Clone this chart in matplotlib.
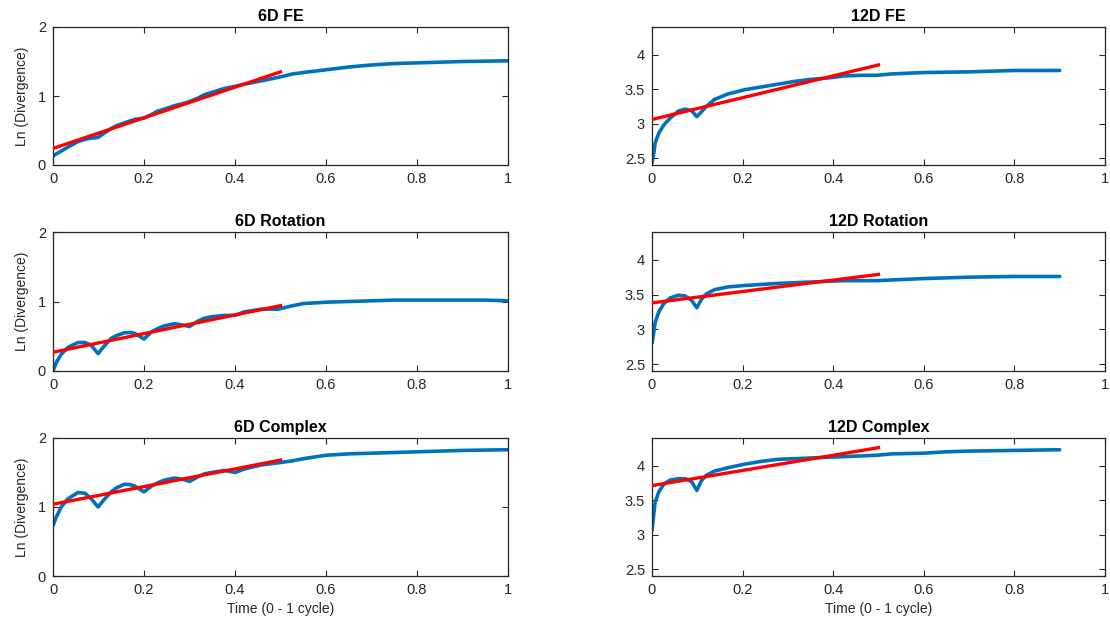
import matplotlib
matplotlib.use("Agg")
import matplotlib.pyplot as plt
from matplotlib.ticker import FuncFormatter

plt.rcParams['font.family'] = ['Liberation Sans', 'DejaVu Sans']

# ---- data ----
t6 = [0, 0.007, 0.018, 0.033, 0.055, 0.07, 0.084, 0.099, 0.11, 0.128,
      0.14, 0.157, 0.17, 0.18, 0.2, 0.216, 0.23, 0.245, 0.267, 0.286,
      0.3, 0.319, 0.333, 0.348, 0.377, 0.4, 0.42, 0.458, 0.495, 0.527,
      0.55, 0.6, 0.65, 0.7, 0.75, 0.8, 0.85, 0.9, 0.95, 1.0]
t12 = [0, 0.004, 0.007, 0.015, 0.026, 0.04, 0.058, 0.073, 0.087, 0.099,
       0.109, 0.12, 0.138, 0.168, 0.204, 0.24, 0.277, 0.313, 0.35, 0.386,
       0.423, 0.46, 0.496, 0.53, 0.6, 0.65, 0.7, 0.75, 0.8, 0.85, 0.9]

fe6 = [0.13, 0.16, 0.20, 0.26, 0.34, 0.37, 0.39, 0.40, 0.45, 0.53,
       0.57, 0.61, 0.64, 0.66, 0.68, 0.73, 0.78, 0.81, 0.86, 0.89,
       0.92, 0.97, 1.02, 1.05, 1.11, 1.14, 1.17, 1.22, 1.27, 1.32,
       1.34, 1.38, 1.42, 1.45, 1.47, 1.48, 1.49, 1.50, 1.505, 1.51]
rot6 = [0.0, 0.12, 0.24, 0.34, 0.41, 0.41, 0.37, 0.25, 0.34, 0.47,
        0.51, 0.55, 0.555, 0.54, 0.46, 0.56, 0.61, 0.65, 0.68, 0.66,
        0.64, 0.72, 0.76, 0.78, 0.80, 0.80, 0.85, 0.89, 0.89, 0.94,
        0.97, 0.99, 1.00, 1.01, 1.02, 1.02, 1.02, 1.02, 1.02, 1.01]
cpx6 = [0.73, 0.85, 1.00, 1.12, 1.21, 1.20, 1.12, 1.00, 1.09, 1.22,
        1.28, 1.33, 1.325, 1.30, 1.22, 1.30, 1.35, 1.39, 1.42, 1.40,
        1.37, 1.44, 1.48, 1.50, 1.53, 1.50, 1.55, 1.61, 1.64, 1.67,
        1.70, 1.75, 1.77, 1.78, 1.79, 1.80, 1.81, 1.82, 1.825, 1.83]

fe12 = [2.43, 2.57, 2.72, 2.86, 2.98, 3.08, 3.18, 3.21, 3.19, 3.10,
        3.17, 3.25, 3.35, 3.43, 3.49, 3.53, 3.57, 3.61, 3.64, 3.66,
        3.69, 3.70, 3.70, 3.72, 3.74, 3.745, 3.75, 3.76, 3.77, 3.77, 3.77]
rot12 = [2.80, 2.96, 3.10, 3.25, 3.37, 3.45, 3.49, 3.48, 3.42, 3.31,
         3.43, 3.51, 3.57, 3.61, 3.63, 3.645, 3.66, 3.67, 3.68, 3.69,
         3.70, 3.70, 3.70, 3.71, 3.73, 3.74, 3.75, 3.755, 3.76, 3.76, 3.76]
cpx12 = [3.06, 3.30, 3.47, 3.62, 3.73, 3.79, 3.81, 3.81, 3.77, 3.64,
         3.78, 3.86, 3.92, 3.97, 4.02, 4.06, 4.09, 4.10, 4.11, 4.12,
         4.13, 4.14, 4.15, 4.17, 4.18, 4.20, 4.21, 4.215, 4.22, 4.225, 4.23]

fit_x = [0, 0.5]
fit_fe6 = [0.24, 1.35]
fit_fe12 = [3.06, 3.85]
fit_rot6 = [0.27, 0.94]
fit_rot12 = [3.38, 3.79]
fit_cpx6 = [1.04, 1.68]
fit_cpx12 = [3.71, 4.26]

titles = ["6D FE", "12D FE", "6D Rotation", "12D Rotation", "6D Complex", "12D Complex"]
xticks = [0, 0.2, 0.4, 0.6, 0.8, 1]
yticks6 = [0, 1, 2]
yticks12 = [2.5, 3, 3.5, 4]

BLUE = '#0072BD'
RED = '#FF0000'
AXC = '#262626'

fig = plt.figure(figsize=(11.1, 6.33), dpi=100)

lefts = [53/1110, 652/1110]
widths = [455/1110, 453/1110]
rows = [(27, 165), (232, 371), (438, 576)]

panels = [
    (t6, fe6, fit_fe6), (t12, fe12, fit_fe12),
    (t6, rot6, fit_rot6), (t12, rot12, fit_rot12),
    (t6, cpx6, fit_cpx6), (t12, cpx12, fit_cpx12),
]

def fmt(v, pos):
    return '%g' % v

for i, (tx, ty, fy) in enumerate(panels):
    r, c = divmod(i, 2)
    top, bot = rows[r]
    ax = fig.add_axes([lefts[c], 1 - bot/633, widths[c], (bot - top)/633])
    ax.plot(tx, ty, color=BLUE, lw=2.6, solid_capstyle='round',
            solid_joinstyle='round', zorder=2)
    ax.plot(fit_x, fy, color=RED, lw=2.4, zorder=3)
    ax.set_xlim(0, 1)
    ax.set_xticks(xticks)
    if c == 0:
        ax.set_ylim(0, 2)
        ax.set_yticks(yticks6)
        ax.set_ylabel("Ln (Divergence)", fontsize=10, color=AXC, labelpad=6)
    else:
        ax.set_ylim(2.4, 4.4)
        ax.set_yticks(yticks12)
    ax.xaxis.set_major_formatter(FuncFormatter(fmt))
    ax.yaxis.set_major_formatter(FuncFormatter(fmt))
    ax.set_title(titles[i], fontsize=11.5, fontweight='bold', pad=4)
    if r == 2:
        ax.set_xlabel("Time (0 - 1 cycle)", fontsize=10, color=AXC, labelpad=4)
    ax.tick_params(direction='in', top=True, right=True, length=4, width=0.8,
                   colors=AXC, labelsize=10.5, pad=5)
    for sp in ax.spines.values():
        sp.set_color(AXC)
        sp.set_linewidth(0.9)

fig.savefig("out.png", dpi=100)
